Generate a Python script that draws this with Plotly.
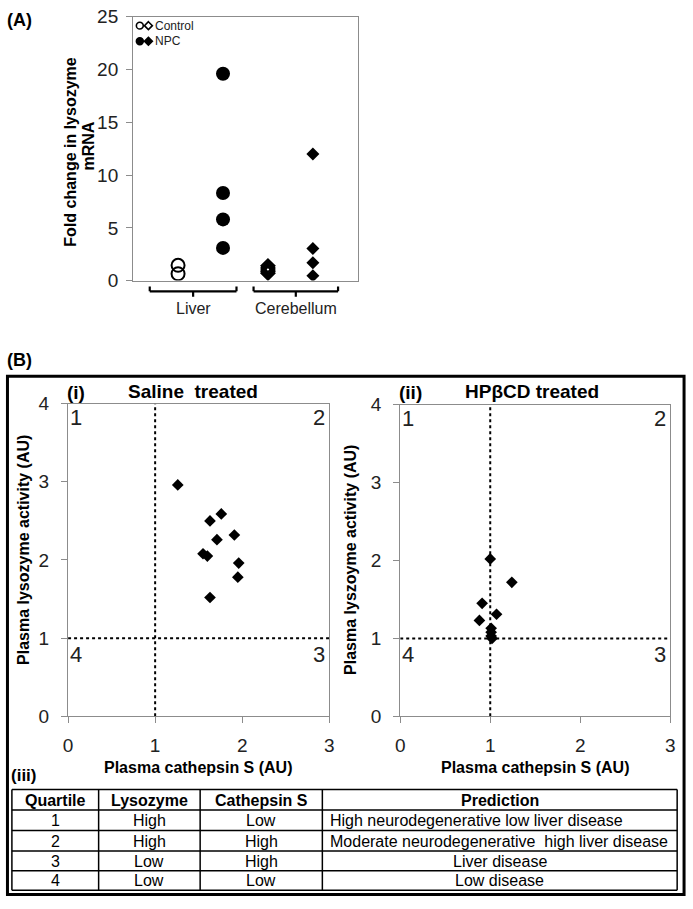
import plotly.graph_objects as go

W, H = 693, 909
FONT = "Arial, 'Liberation Sans', sans-serif"

# ---------------- data ----------------
# Panel A: fold change in lysozyme mRNA
tissues = ["Liver", "Cerebellum"]
liver_control = [1.45, 0.65]
liver_npc = [19.6, 8.3, 5.8, 3.1]
cerebellum_control = [1.4, 1.2, 1.0, 0.85, 0.7]
cerebellum_npc = [12.0, 3.05, 1.7, 0.47]
groups_a_pos = [1, 2, 3, 4]  # liver ctrl, liver npc, cereb ctrl, cereb npc
legend_labels = ["Control", "NPC"]

# Panel B(i): saline treated
saline_cathepsin = [1.26, 1.63, 1.76, 1.91, 1.71, 1.55, 1.60, 1.96, 1.95, 1.63]
saline_lysozyme = [2.96, 2.50, 2.59, 2.32, 2.26, 2.08, 2.05, 1.96, 1.78, 1.52]
# Panel B(ii): HPbCD treated
hpbcd_cathepsin = [1.00, 1.24, 0.91, 1.07, 0.88, 1.01, 1.01, 1.01, 1.02]
hpbcd_lysozyme = [2.02, 1.72, 1.45, 1.31, 1.23, 1.13, 1.08, 1.03, 1.00]
threshold = 1
quadrants = ["1", "2", "3", "4"]

# Panel B(iii): table
tbl_header = ["Quartile", "Lysozyme", "Cathepsin S", "Prediction"]
tbl_quartile = ["1", "2", "3", "4"]
tbl_lysozyme = ["High", "High", "Low", "Low"]
tbl_cathepsin = ["Low", "High", "High", "Low"]
tbl_prediction = ["High neurodegenerative low liver disease",
                  "Moderate neurodegenerative  high liver disease",
                  "Liver disease", "Low disease"]
tbl_pred_align = ["left", "left", "center", "center"]


def px(x):
    return x / W


def py(y):
    return 1 - y / H


fig = go.Figure()

# ---- panel A traces ----
fig.add_trace(go.Scatter(x=[groups_a_pos[0]] * len(liver_control), y=liver_control, mode="markers",
                         marker=dict(symbol="circle-open", size=13, color="black", line=dict(width=2)),
                         xaxis="x", yaxis="y", showlegend=False))
fig.add_trace(go.Scatter(x=[groups_a_pos[1]] * len(liver_npc), y=liver_npc, mode="markers",
                         marker=dict(symbol="circle", size=14, color="black"),
                         xaxis="x", yaxis="y", showlegend=False))
fig.add_trace(go.Scatter(x=[groups_a_pos[2]] * len(cerebellum_control), y=cerebellum_control, mode="markers",
                         marker=dict(symbol="diamond-open", size=10, color="black", line=dict(width=2)),
                         xaxis="x", yaxis="y", showlegend=False))
fig.add_trace(go.Scatter(x=[groups_a_pos[3]] * len(cerebellum_npc), y=cerebellum_npc, mode="markers",
                         marker=dict(symbol="diamond", size=10, color="black"),
                         xaxis="x", yaxis="y", showlegend=False))

# ---- panel B scatter ----
fig.add_trace(go.Scatter(x=saline_cathepsin, y=saline_lysozyme, mode="markers",
                         marker=dict(symbol="diamond", size=9, color="black"),
                         xaxis="x2", yaxis="y2", showlegend=False))
fig.add_trace(go.Scatter(x=hpbcd_cathepsin, y=hpbcd_lysozyme, mode="markers",
                         marker=dict(symbol="diamond", size=9, color="black"),
                         xaxis="x3", yaxis="y3", showlegend=False))

axis_common = dict(showgrid=False, zeroline=False, showline=True, mirror=True,
                   linecolor="#8c8c8c", linewidth=1.2, ticks="outside", tickcolor="#8c8c8c",
                   ticklen=6, tickfont=dict(family=FONT, size=19, color="#222"))

layout = dict(
    width=W, height=H, margin=dict(l=0, r=0, t=0, b=0),
    paper_bgcolor="white", plot_bgcolor="white", font=dict(family=FONT, color="black"),
    xaxis=dict(domain=[px(130), px(358)], range=[0, 5], showgrid=False, zeroline=False,
               showline=True, mirror=True, linecolor="#8c8c8c", linewidth=1.2,
               showticklabels=False, ticks=""),
    yaxis=dict(domain=[py(277), py(7)], range=[0, 25], dtick=5, ticklabelstandoff=4, **axis_common),
    xaxis2=dict(domain=[px(64), px(329)], range=[0, 3], dtick=1, anchor="y2", ticklabelstandoff=6,
                **axis_common),
    yaxis2=dict(domain=[py(723), py(403)], range=[0, 4], dtick=1, anchor="x2", ticklabelstandoff=8,
                **axis_common),
    xaxis3=dict(domain=[px(401), px(675)], range=[0, 3], dtick=1, anchor="y3", ticklabelstandoff=6,
                **axis_common),
    yaxis3=dict(domain=[py(723), py(404)], range=[0, 4], dtick=1, anchor="x3", ticklabelstandoff=8,
                **axis_common),
)
fig.update_layout(**layout)

shapes = []
ann = []

# brackets under panel A
brackets = [(0.37, 2.30), (2.68, 4.56)]
for (a, b), name in zip(brackets, tissues):
    c = (a + b) / 2
    line = dict(color="black", width=2.2)
    shapes.append(dict(type="line", xref="x", yref="paper", x0=a, x1=b, y0=py(288), y1=py(288), line=line))
    shapes.append(dict(type="line", xref="x", yref="paper", x0=a, x1=a, y0=py(288), y1=py(283), line=line))
    shapes.append(dict(type="line", xref="x", yref="paper", x0=b, x1=b, y0=py(288), y1=py(283), line=line))
    shapes.append(dict(type="line", xref="x", yref="paper", x0=c, x1=c, y0=py(288), y1=py(293.5), line=line))
    ann.append(dict(text=name, xref="x", yref="paper", x=c, y=py(306), showarrow=False,
                    font=dict(size=16, color="#222"), xanchor="center", yanchor="middle"))

# legend panel A (symbols drawn as shapes)
for row_y, label, filled in [(16, legend_labels[0], False), (32, legend_labels[1], True)]:
    fillc = "black" if filled else "white"
    shapes.append(dict(type="circle", xref="paper", yref="paper",
                       x0=px(133.3), x1=px(140.3), y0=py(row_y + 3.5), y1=py(row_y - 3.5),
                       line=dict(color="black", width=1.6), fillcolor=fillc))
    path = "M %f %f L %f %f L %f %f L %f %f Z" % (
        px(145.5), py(row_y - 4), px(149.5), py(row_y), px(145.5), py(row_y + 4), px(141.5), py(row_y))
    shapes.append(dict(type="path", xref="paper", yref="paper", path=path,
                       line=dict(color="black", width=1.6), fillcolor=fillc))
    ann.append(dict(text=label, xref="paper", yref="paper", x=px(150.5), y=py(row_y), showarrow=False,
                    xanchor="left", yanchor="middle", font=dict(size=12, color="#222")))

# panel A y title (two lines)
ann.append(dict(text="<b>Fold change in lysozyme</b>", xref="paper", yref="paper",
                x=px(67), y=py(146), textangle=-90, showarrow=False, xanchor="center", yanchor="middle",
                font=dict(size=16, color="black")))
ann.append(dict(text="<b>mRNA</b>", xref="paper", yref="paper",
                x=px(85), y=py(139), textangle=-90, showarrow=False, xanchor="center", yanchor="middle",
                font=dict(size=16, color="black")))

# panel labels
ann.append(dict(text="<b>(A)</b>", xref="paper", yref="paper", x=0, y=py(10), showarrow=False,
                xanchor="left", yanchor="middle", font=dict(size=18)))
ann.append(dict(text="<b>(B)</b>", xref="paper", yref="paper", x=0, y=py(358), showarrow=False,
                xanchor="left", yanchor="middle", font=dict(size=18)))
ann.append(dict(text="<b>(iii)</b>", xref="paper", yref="paper", x=px(4), y=py(784), showarrow=False,
                xanchor="left", yanchor="middle", font=dict(size=17)))

# big frame for B
shapes.append(dict(type="rect", xref="paper", yref="paper", x0=px(2.5), x1=px(689), y0=py(905.5), y1=py(375),
                   line=dict(color="black", width=3)))

# panel B subplots decorations
for xa, ya, tag, title, ytitle, ytx, yty, tcx in [
    ("x2", "y2", "(i)", "Saline\u00a0 treated", "Plasma lysozyme activity (AU)", 18, 553, 191),
    ("x3", "y3", "(ii)", "HPβCD treated", "Plasma lyszoyme activity (AU)", 351, 563, 535),
]:
    dot = dict(color="black", width=2, dash="dot")
    shapes.append(dict(type="line", xref=xa, yref=ya, x0=threshold, x1=threshold, y0=0, y1=4, line=dot))
    shapes.append(dict(type="line", xref=xa, yref=ya, x0=0, x1=3, y0=threshold, y1=threshold, line=dot))
    qfont = dict(size=22, color="#222")
    ann.append(dict(text=quadrants[0], xref=xa, yref=ya, x=0, y=4, xanchor="left", yanchor="top",
                    xshift=0, yshift=1, showarrow=False, font=qfont))
    ann.append(dict(text=quadrants[1], xref=xa, yref=ya, x=3, y=4, xanchor="right", yanchor="top",
                    xshift=-2, yshift=1, showarrow=False, font=qfont))
    ann.append(dict(text=quadrants[2], xref=xa, yref=ya, x=3, y=threshold, xanchor="right", yanchor="top",
                    xshift=-2, yshift=-2, showarrow=False, font=qfont))
    ann.append(dict(text=quadrants[3], xref=xa, yref=ya, x=0, y=threshold, xanchor="left", yanchor="top",
                    xshift=0, yshift=-2, showarrow=False, font=qfont))
    ann.append(dict(text="<b>%s</b>" % tag, xref=xa + " domain", yref="paper", x=0, y=py(392),
                    xanchor="left", yanchor="middle", xshift=-3, showarrow=False, font=dict(size=19)))
    ann.append(dict(text="<b>%s</b>" % title, xref="paper", yref="paper", x=px(tcx), y=py(391),
                    xanchor="center", yanchor="middle", showarrow=False, font=dict(size=19)))
    ann.append(dict(text="<b>%s</b>" % ytitle, xref="paper", yref="paper", x=px(ytx), y=py(yty),
                    xanchor="center", yanchor="middle", textangle=-90, showarrow=False,
                    font=dict(size=16)))
    ann.append(dict(text="<b>Plasma cathepsin S (AU)</b>", xref=xa + " domain", yref="paper", x=0.5,
                    y=py(775), xanchor="center", yanchor="middle", showarrow=False, font=dict(size=16)))

# ---- table (iii) drawn with lines + text ----
col_edges = [7, 95, 198, 322, 682]
row_edges = [798, 819, 840, 861, 881, 901]
tline = dict(color="black", width=1.5)
for xe in col_edges:
    shapes.append(dict(type="line", xref="paper", yref="paper", x0=px(xe), x1=px(xe),
                       y0=py(row_edges[0]), y1=py(row_edges[-1]), line=tline))
for ye in row_edges:
    shapes.append(dict(type="line", xref="paper", yref="paper", x0=px(col_edges[0]), x1=px(col_edges[-1]),
                       y0=py(ye), y1=py(ye), line=tline))
columns = [tbl_quartile, tbl_lysozyme, tbl_cathepsin, tbl_prediction]
for ci, head in enumerate(tbl_header):
    xc = (col_edges[ci] + col_edges[ci + 1]) / 2
    ann.append(dict(text="<b>%s</b>" % head, xref="paper", yref="paper", x=px(xc),
                    y=py((row_edges[0] + row_edges[1]) / 2 + 0.5), xanchor="center", yanchor="middle",
                    showarrow=False, font=dict(size=16, color="black")))
    for ri, val in enumerate(columns[ci]):
        ym = py((row_edges[ri + 1] + row_edges[ri + 2]) / 2 + 0.5)
        if ci == 3 and tbl_pred_align[ri] == "left":
            ann.append(dict(text=val.replace("  ", "\u00a0 "), xref="paper", yref="paper",
                            x=px(col_edges[ci] + 6), y=ym, xanchor="left", yanchor="middle",
                            showarrow=False, font=dict(size=16, color="black")))
        else:
            ann.append(dict(text=val, xref="paper", yref="paper", x=px(xc), y=ym,
                            xanchor="center", yanchor="middle", showarrow=False,
                            font=dict(size=16, color="black")))

fig.update_layout(shapes=shapes, annotations=ann)
fig.write_html("out.html", config={"displayModeBar": False},
               post_script="document.body.style.margin='0';document.body.style.padding='0';")
